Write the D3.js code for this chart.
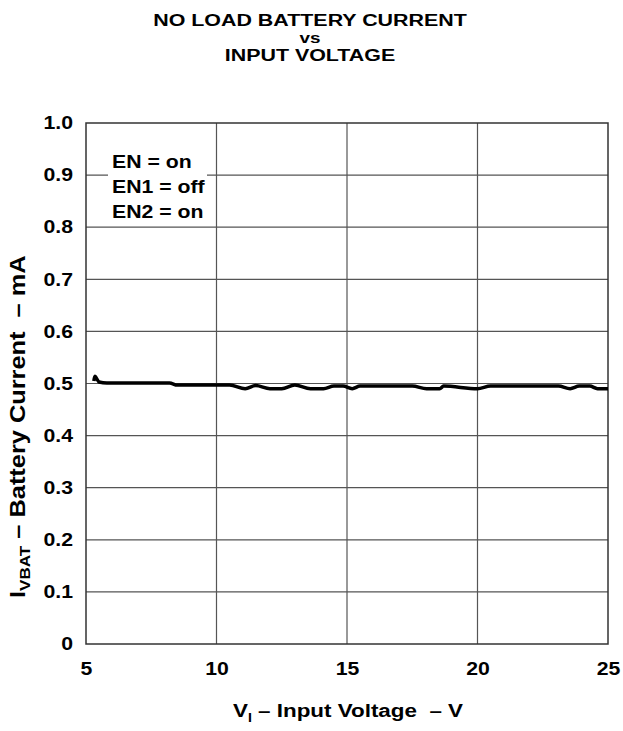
<!DOCTYPE html>
<html><head><meta charset="utf-8">
<script src="https://cdn.jsdelivr.net/npm/d3@7"></script>
<style>body{margin:0;background:#fff}svg{display:block}text{font-family:"Liberation Sans",Arial,sans-serif;font-weight:bold;fill:#000;white-space:pre}</style>
</head><body>
<script>
const titleLines = ["NO LOAD BATTERY CURRENT", "vs", "INPUT VOLTAGE"];
const xTicks = [5, 10, 15, 20, 25];
const yTicks = [0, 0.1, 0.2, 0.3, 0.4, 0.5, 0.6, 0.7, 0.8, 0.9, 1.0];
const yTickLabels = ["0", "0.1", "0.2", "0.3", "0.4", "0.5", "0.6", "0.7", "0.8", "0.9", "1.0"];
const legendLines = ["EN = on", "EN1 = off", "EN2 = on"];
const voltage = [5.3, 5.34, 5.4, 5.5, 5.8, 8.2, 8.5, 10.5, 11.1, 11.5, 12.05, 12.5, 13.0, 13.6, 14.1, 14.5, 14.85, 15.2, 15.5, 17.5, 18.05, 18.55, 18.7, 20.0, 20.5, 23.1, 23.55, 23.9, 24.3, 24.6, 25];
const current = [0.505, 0.514, 0.51, 0.503, 0.501, 0.501, 0.497, 0.497, 0.49, 0.496, 0.49, 0.49, 0.497, 0.49, 0.49, 0.495, 0.495, 0.49, 0.495, 0.495, 0.49, 0.49, 0.495, 0.49, 0.495, 0.495, 0.49, 0.495, 0.495, 0.49, 0.49];

const W = 623, H = 731;
const SX = 1.18, FS = 18;
const m = {l: 86, r: 608, t: 123, b: 644};
const svg = d3.select("body").append("svg").attr("width", W).attr("height", H);
const x = d3.scaleLinear().domain([5, 25]).range([m.l, m.r]);
const y = d3.scaleLinear().domain([0, 1]).range([m.b, m.t]);

function stext(px, py, anchor, rot, sx) {
  return svg.append("g").attr("transform", `translate(${px},${py})${rot ? " rotate(-90)" : ""} scale(${sx || SX},1)`)
    .append("text").attr("text-anchor", anchor).attr("font-size", FS).attr("xml:space", "preserve");
}

// title
titleLines.forEach((t, i) => {
  stext(310, [26, 43, 61][i], "middle", false, 1.26).attr("font-size", i === 1 ? 15 : 17).text(t);
});

// grid
const g = svg.append("g");
g.selectAll(".hg").data(yTicks.slice(1, -1)).enter().append("line")
  .attr("x1", m.l).attr("x2", m.r).attr("y1", d => y(d)).attr("y2", d => y(d))
  .attr("stroke", "#555").attr("stroke-width", 1.2);
g.selectAll(".vg").data(xTicks.slice(1, -1)).enter().append("line")
  .attr("y1", m.t).attr("y2", m.b).attr("x1", d => x(d)).attr("x2", d => x(d))
  .attr("stroke", "#555").attr("stroke-width", 1.2);

// legend box
svg.append("rect").attr("x", 108).attr("y", 150).attr("width", 99).attr("height", 74).attr("fill", "#fff");
legendLines.forEach((t, i) => stext(112, 168 + i * 25, "start").text(t));

// frame
svg.append("rect").attr("x", m.l).attr("y", m.t).attr("width", m.r - m.l).attr("height", m.b - m.t)
  .attr("fill", "none").attr("stroke", "#333").attr("stroke-width", 1.5);

// axes tick labels via d3 axes
const xAxis = svg.append("g").attr("transform", `translate(0,${m.b})`)
  .call(d3.axisBottom(x).tickValues(xTicks).tickSize(0).tickPadding(18).tickFormat(d3.format("d")));
xAxis.select(".domain").remove();
xAxis.selectAll("text").attr("font-size", FS).attr("font-family", null).attr("fill", "#000")
  .attr("transform", `scale(${SX},1)`);

const yAxis = svg.append("g").attr("transform", `translate(${m.l},0)`)
  .call(d3.axisLeft(y).tickValues(yTicks).tickSize(0).tickPadding(11).tickFormat((d, i) => yTickLabels[i]));
yAxis.select(".domain").remove();
yAxis.selectAll("text").attr("font-size", FS).attr("font-family", null).attr("fill", "#000")
  .attr("transform", `scale(${SX},1)`);

// data line
svg.append("path").datum(voltage.map((v, i) => [v, current[i]]))
  .attr("fill", "none").attr("stroke", "#000").attr("stroke-width", 3.5).attr("stroke-linejoin", "round")
  .attr("d", d3.line().x(d => x(d[0])).y(d => y(d[1])).curve(d3.curveMonotoneX));

// x label
const xl = stext(348, 717, "middle").attr("font-size", 19);
xl.append("tspan").text("V");
xl.append("tspan").attr("font-size", 12).attr("dy", 5).text("I");
xl.append("tspan").attr("dy", -5).text(" – Input Voltage  – V");

// y label
const yl = stext(25, 598, "start", true).attr("font-size", 21.5);
yl.append("tspan").text("I");
yl.append("tspan").attr("font-size", 14.5).attr("dy", 5).text("VBAT");
yl.append("tspan").attr("dy", -5).text(" – Battery Current  – mA");
</script>
</body></html>
